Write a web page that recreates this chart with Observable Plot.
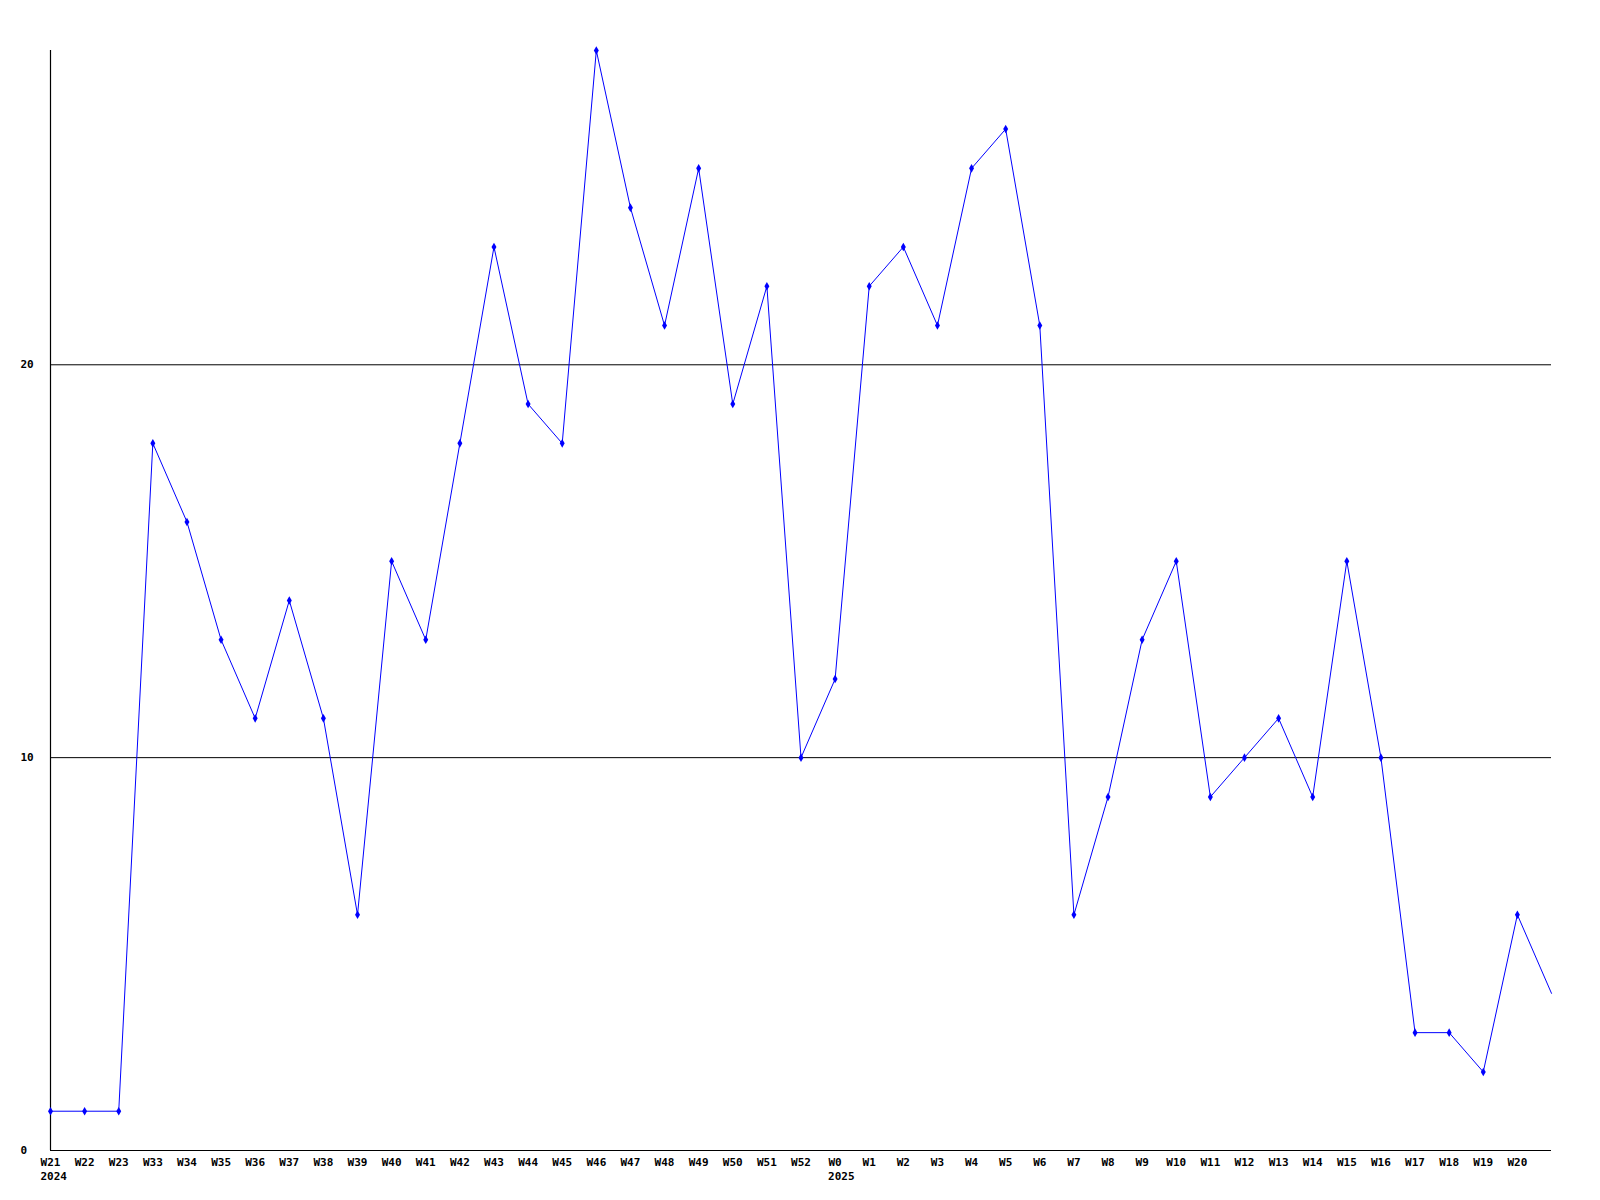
<!DOCTYPE html>
<html>
<head>
<meta charset="utf-8">
<script src="https://cdn.jsdelivr.net/npm/d3@7"></script>
<script src="https://cdn.jsdelivr.net/npm/@observablehq/plot@0.6"></script>
<style>
  html, body { margin: 0; padding: 0; background: #fff; }
  #chart svg { display: block; }
</style>
</head>
<body>
<div id="chart"></div>
<script>
const weeks = ["W21","W22","W23","W33","W34","W35","W36","W37","W38","W39","W40","W41","W42","W43","W44","W45","W46","W47","W48","W49","W50","W51","W52","W0","W1","W2","W3","W4","W5","W6","W7","W8","W9","W10","W11","W12","W13","W14","W15","W16","W17","W18","W19","W20","W21 (2025)"];
const tickLabels = ["W21","W22","W23","W33","W34","W35","W36","W37","W38","W39","W40","W41","W42","W43","W44","W45","W46","W47","W48","W49","W50","W51","W52","W0","W1","W2","W3","W4","W5","W6","W7","W8","W9","W10","W11","W12","W13","W14","W15","W16","W17","W18","W19","W20",""];
const counts = [1,1,1,18,16,13,11,14,11,6,15,13,18,23,19,18,28,24,21,25,19,22,10,12,22,23,21,25,26,21,6,9,13,15,9,10,11,9,15,10,3,3,2,6,4];
const yearLabels = [{week: "W21", year: "2024"}, {week: "W0", year: "2025"}];
const yTicks = [0, 10, 20];
const gridValues = [10, 20];

const data = weeks.map((w, i) => ({week: w, value: counts[i]}));
const markerData = data.slice(0, data.length - 1);

const font = "'DejaVu Sans Mono', monospace";

const chart = Plot.plot({
  width: 1600,
  height: 1200,
  marginLeft: 50,
  marginRight: 49,
  marginTop: 50,
  marginBottom: 50,
  style: {fontFamily: font, fontSize: "11px", fontWeight: "bold", color: "#000", background: "#fff"},
  x: {type: "point", domain: weeks, padding: 0, round: false, label: null},
  y: {domain: [0, 28], range: [1150, 50], label: null},
  marks: [
    Plot.ruleY(gridValues, {stroke: "#000", strokeWidth: 1}),
    Plot.ruleY([0], {stroke: "#000", strokeWidth: 1.2}),
    Plot.ruleX([weeks[0]], {y1: 0, y2: 28, stroke: "#000", strokeWidth: 1.2}),
    Plot.line(data, {x: "week", y: "value", stroke: "#0000ff", strokeWidth: 1}),
    Plot.dot(markerData, {x: "week", y: "value", symbol: "diamond", r: 2.6, fill: "#0000ff", stroke: "none"}),
    Plot.axisX({tickSize: 0, tickPadding: 8, label: null, tickFormat: (d) => tickLabels[weeks.indexOf(d)], fontFamily: font, fontSize: 11, fontWeight: "bold"}),
    Plot.axisY({ticks: yTicks, tickSize: 0, tickPadding: 0, label: null, textAnchor: "start", dx: -30, fontFamily: font, fontSize: 11, fontWeight: "bold"}),
    Plot.text([yearLabels[0]], {x: "week", text: "year", frameAnchor: "bottom", textAnchor: "start", lineAnchor: "top", dy: 22, dx: -10, fontFamily: font, fontSize: 11, fontWeight: "bold", fill: "#000"}),
    Plot.text([yearLabels[1]], {x: "week", text: "year", frameAnchor: "bottom", textAnchor: "start", lineAnchor: "top", dy: 22, dx: -7, fontFamily: font, fontSize: 11, fontWeight: "bold", fill: "#000"})
  ]
});
document.getElementById("chart").appendChild(chart);
</script>
</body>
</html>
